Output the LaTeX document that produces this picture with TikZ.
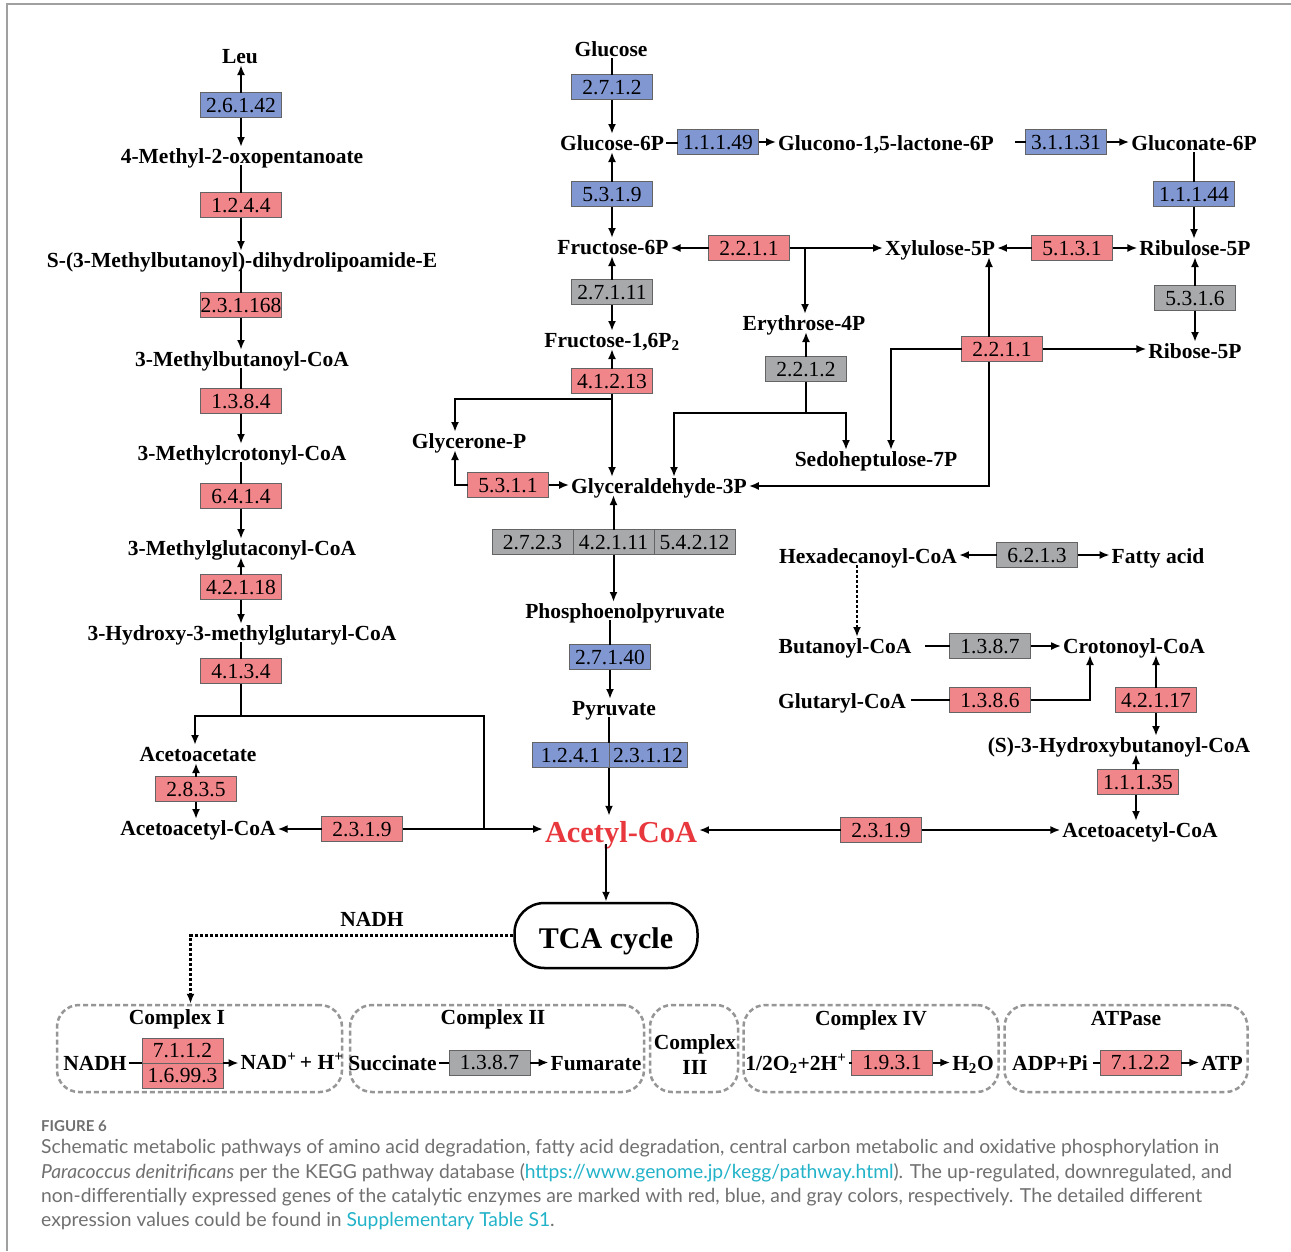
\documentclass[tikz,border=0pt]{standalone}
\usepackage{fontspec}
\setmainfont{Liberation Serif}
\newfontfamily\capfont{Lato}
\usetikzlibrary{arrows.meta,calc}
\definecolor{upred}{RGB}{240,134,138}
\definecolor{downblue}{RGB}{129,151,210}
\definecolor{nsgray}{RGB}{167,169,170}
\definecolor{boxline}{RGB}{100,100,100}
\definecolor{acred}{RGB}{232,56,61}
\definecolor{capgray}{RGB}{112,112,112}
\definecolor{linkcyan}{RGB}{34,179,201}
\definecolor{framegray}{RGB}{160,160,160}
\definecolor{cplxgray}{RGB}{150,150,150}
\newcommand\metfont{\fontsize{21.5}{24}\selectfont\bfseries}
\newcommand\enzfont{\fontsize{21.5}{24}\selectfont}
\newcommand\captxt{\capfont\fontsize{19.3}{23}\selectfont\color{capgray}}
\begin{document}
\begin{tikzpicture}[x=1pt,y=-1pt,
  met/.style={font=\metfont, inner sep=0pt, outer xsep=2pt, outer ysep=0pt, text height=16pt, text depth=2pt},
  enz/.style={draw=boxline, line width=0.8pt, minimum width=81pt, minimum height=25pt, inner sep=0pt, outer sep=0pt, font=\enzfont, text height=14.5pt, text depth=0pt},
  redbox/.style={enz, fill=upred},
  bluebox/.style={enz, fill=downblue},
  graybox/.style={enz, fill=nsgray},
  conn/.style={line width=2pt},
  flow/.style={conn, -{Latex[length=10pt,width=8pt]}},
  dotflow/.style={line width=2.2pt, dash pattern=on 3pt off 2pt, -{Latex[length=10pt,width=8pt]}},
  cplx/.style={draw=cplxgray, line width=2.5pt, dash pattern=on 5pt off 3pt, rounded corners=22pt, inner sep=0pt},
  tcabox/.style={draw, line width=2.5pt, rounded corners=30pt, minimum width=183pt, minimum height=65pt, inner sep=0pt, text height=25pt, text depth=0pt, font=\fontsize{30}{34}\selectfont\bfseries},
  capline/.style={anchor=base west, inner sep=0pt, font=\captxt}
]
\useasboundingbox (0,0) rectangle (1291,1251);
\fill[white] (0,0) rectangle (1291,1251);
\draw[framegray, line width=1.5pt] (7,1251) -- (7,4) -- (1291,4);

% ---------------- left column: leucine degradation
\node[met] (leu) at (240,56) {Leu};
\node[bluebox] (e1) at (241,105) {2.6.1.42};
\node[met] (mop) at (242,156) {4-Methyl-2-oxopentanoate};
\node[redbox] (e2) at (241,205) {1.2.4.4};
\node[met] (smb) at (242,260) {S-(3-Methylbutanoyl)-dihydrolipoamide-E};
\node[redbox] (e3) at (241,305) {2.3.1.168};
\node[met] (mbc) at (242,359) {3-Methylbutanoyl-CoA};
\node[redbox] (e4) at (241,401) {1.3.8.4};
\node[met] (mcc) at (242,453) {3-Methylcrotonyl-CoA};
\node[redbox] (e5) at (241,496) {6.4.1.4};
\node[met] (mgc) at (242,548) {3-Methylglutaconyl-CoA};
\node[redbox] (e6) at (241,587) {4.2.1.18};
\node[met] (hmg) at (242,633) {3-Hydroxy-3-methylglutaryl-CoA};
\node[redbox] (e7) at (241,671) {4.1.3.4};
\node[met] (aca) at (198,754) {Acetoacetate};
\node[redbox] (e8) at (196,789) {2.8.3.5};
\node[met] (acc1) at (198,828) {Acetoacetyl-CoA};
\node[redbox] (e9) at (362,829) {2.3.1.9};
\node[font=\fontsize{30.4}{34}\selectfont\bfseries, text=acred, inner sep=0pt, outer xsep=2pt, text height=26pt, text depth=2pt] (acoa) at (621,830) {Acetyl-CoA};
\coordinate (j1) at (241,715.5);
\coordinate (j3) at (484,829);

\draw[flow] (e1.north) -- (e1.north |- leu.south);
\draw[flow] (e1.south) -- (e1.south |- mop.north);
\draw[conn] (e2.north |- mop.south) -- (e2.north);
\draw[flow] (e2.south) -- (e2.south |- smb.north);
\draw[conn] (e3.north |- smb.south) -- (e3.north);
\draw[flow] (e3.south) -- (e3.south |- mbc.north);
\draw[conn] (e4.north |- mbc.south) -- (e4.north);
\draw[flow] (e4.south) -- (e4.south |- mcc.north);
\draw[conn] (e5.north |- mcc.south) -- (e5.north);
\draw[flow] (e5.south) -- (e5.south |- mgc.north);
\draw[flow] (e6.north) -- (e6.north |- mgc.south);
\draw[flow] (e6.south) -- (e6.south |- hmg.north);
\draw[conn] (e7.north |- hmg.south) -- (e7.north);
\draw[conn] (e7.south) -- (j1);
\draw[flow] (j1) -| ([xshift=-3pt]aca.north);
\draw[conn] (j1) -| (j3);
\draw[flow] (e8.north) -- (e8.north |- aca.south);
\draw[flow] (e8.south) -- (e8.south |- acc1.north);
\draw[flow] (e9.west) -- (e9.west -| acc1.east);
\draw[flow] (e9.east) -- (e9.east -| acoa.west);

% ---------------- central column: glycolysis / PPP
\node[met] (glc) at (611,49) {Glucose};
\node[bluebox] (e2712) at (612,87) {2.7.1.2};
\node[met] (g6p) at (612,143) {Glucose-6P};
\node[bluebox] (e11149) at (718,142) {1.1.1.49};
\node[met] (gl15) at (886,143) {Glucono-1,5-lactone-6P};
\node[bluebox] (e31131) at (1066,142) {3.1.1.31};
\node[met] (gc6p) at (1194,143) {Gluconate-6P};
\node[bluebox] (e11144) at (1194,194) {1.1.1.44};
\node[met] (ru5p) at (1195,248) {Ribulose-5P};
\node[graybox] (e5316) at (1195,298) {5.3.1.6};
\node[met] (r5p) at (1195,351) {Ribose-5P};
\node[redbox] (e5131) at (1072,248) {5.1.3.1};
\node[met] (xu5p) at (940,248) {Xylulose-5P};
\node[met] (f6p) at (613,247) {Fructose-6P};
\node[redbox] (e2211a) at (749,248) {2.2.1.1};
\node[met] (e4p) at (804,323) {Erythrose-4P};
\node[bluebox] (e5319) at (612,194) {5.3.1.9};
\node[graybox] (e27111) at (612,292) {2.7.1.11};
\node[met] (f16) at (612,340) {Fructose-1,6P\textsubscript{2}};
\node[redbox] (e41213) at (612,381) {4.1.2.13};
\node[met] (gnp) at (469,441) {Glycerone-P};
\node[redbox] (e5311) at (508,485) {5.3.1.1};
\node[met] (gap) at (659,486) {Glyceraldehyde-3P};
\node[graybox] (e2212) at (806,369) {2.2.1.2};
\node[met] (s7p) at (876,459) {Sedoheptulose-7P};
\node[redbox] (e2211b) at (1002,349) {2.2.1.1};
\node[graybox] (g1) at (532.5,542) {2.7.2.3};
\node[graybox] (g2) at (613.5,542) {4.2.1.11};
\node[graybox] (g3) at (694.5,542) {5.4.2.12};
\node[met] (pep) at (625,611) {Phosphoenolpyruvate};
\node[bluebox] (e27140) at (610,657) {2.7.1.40};
\node[met] (pyr) at (614,708) {Pyruvate};
\node[bluebox, minimum width=77pt] (e1241) at (570.5,755) {1.2.4.1};
\node[bluebox, minimum width=78pt] (e23112) at (648,755) {2.3.1.12};
\coordinate (b1) at (612,399);
\coordinate (j2) at (806,412.5);

\draw[conn] (e2712.north |- glc.south) -- (e2712.north);
\draw[flow] (e2712.south) -- (e2712.south |- g6p.north);
\draw[conn] (g6p.east) -- (g6p.east -| e11149.west);
\draw[flow] (e11149.east) -- (e11149.east -| gl15.west);
\draw[conn] ([xshift=19pt]gl15.east |- e31131.west) -- (e31131.west);
\draw[flow] (e31131.east) -- (e31131.east -| gc6p.west);
\draw[conn] (gc6p.south) -- (e11144.north);
\draw[flow] (e11144.south) -- (e11144.south |- ru5p.north);
\draw[flow] (e5316.north) -- (e5316.north |- ru5p.south);
\draw[flow] (e5316.south) -- (e5316.south |- r5p.north);
\draw[flow] (e5131.west) -- (e5131.west -| xu5p.east);
\draw[flow] (e5131.east) -- (e5131.east -| ru5p.west);
\draw[flow] (e5319.north) -- (e5319.north |- g6p.south);
\draw[flow] (e5319.south) -- (e5319.south |- f6p.north);
\draw[flow] (e27111.north) -- (e27111.north |- f6p.south);
\draw[flow] (e27111.south) -- (e27111.south |- f16.north);
\draw[flow] (e2211a.west) -- (e2211a.west -| f6p.east);
\draw[flow] (e2211a.east) -- (e2211a.east -| xu5p.west);
\draw[flow] ([xshift=1pt]e4p.north |- e2211a.east) -- ([xshift=1pt]e4p.north);
\draw[flow] (e41213.north) -- (e41213.north |- f16.south);
\draw[flow] (e41213.south) -- (e41213.south |- gap.north);
\draw[flow] (b1) -| ([xshift=-14pt]gnp.north);
\draw[flow] (e5311.west) -| ([xshift=-14pt]gnp.south);
\draw[flow] (e5311.east) -- (e5311.east -| gap.west);
\draw[flow] (e2212.north) -- (e2212.north |- e4p.south);
\draw[conn] (e2212.south) -- (j2);
\draw[flow] (j2) -| ([xshift=15pt]gap.north);
\draw[flow] (j2) -| ([xshift=-30pt]s7p.north);
\draw[flow] (e2211b.west) -| ([xshift=15pt]s7p.north);
\draw[flow] (e2211b.east) -- (e2211b.east -| r5p.west);
\draw[flow] ([xshift=-13pt]e2211b.north) -- ([xshift=-13pt]e2211b.north |- xu5p.south);
\draw[flow] ([xshift=-13pt]e2211b.south) |- (gap.east);
\draw[flow] (g2.north) -- (g2.north |- gap.south);
\draw[flow] (g2.south) -- (g2.south |- pep.north);
\draw[conn] (e27140.north |- pep.south) -- (e27140.north);
\draw[flow] (e27140.south) -- (e27140.south |- pyr.north);
\draw[conn] (e1241.north east |- pyr.south) -- (e1241.north east);
\draw[flow] (e1241.south east) -- (e1241.south east |- acoa.north);

% ---------------- right: fatty acid degradation
\node[met] (hex) at (868,556) {Hexadecanoyl-CoA};
\node[graybox] (e6213) at (1037,555) {6.2.1.3};
\node[met] (fa) at (1158,556) {Fatty acid};
\node[met] (but) at (845,646) {Butanoyl-CoA};
\node[graybox] (e1387) at (990,646) {1.3.8.7};
\node[met] (cro) at (1134,646) {Crotonoyl-CoA};
\node[met] (glu) at (842,701) {Glutaryl-CoA};
\node[redbox] (e1386) at (990,700) {1.3.8.6};
\node[redbox] (e42117) at (1156,700) {4.2.1.17};
\node[met] (hb) at (1119,745) {(S)-3-Hydroxybutanoyl-CoA};
\node[redbox] (e11135) at (1138,782) {1.1.1.35};
\node[met] (acc2) at (1140,830) {Acetoacetyl-CoA};
\node[redbox] (e2319b) at (881,830) {2.3.1.9};

\draw[flow] (e6213.west) -- (e6213.west -| hex.east);
\draw[flow] (e6213.east) -- (e6213.east -| fa.west);
\draw[dotflow] ([xshift=-11pt]hex.south) -- ([xshift=-11pt]hex.south |- but.north);
\draw[conn, shorten <=12pt] (but.east |- e1387.west) -- (e1387.west);
\draw[flow] (e1387.east) -- (e1387.east -| cro.west);
\draw[conn, shorten <=3pt] (glu.east |- e1386.west) -- (e1386.west);
\draw[flow] (e1386.east) -| ([xshift=-44pt]cro.south);
\draw[flow] (e42117.north) -- (e42117.north |- cro.south);
\draw[flow] (e42117.south) -- (e42117.south |- hb.north);
\draw[flow] ([xshift=-2pt]e11135.north) -- ([xshift=-2pt]e11135.north |- hb.south);
\draw[flow] ([xshift=-2pt]e11135.south) -- ([xshift=-2pt]e11135.south |- acc2.north);
\draw[flow] (e2319b.east) -- (e2319b.east -| acc2.west);
\draw[flow] (e2319b.west) -- (e2319b.west -| acoa.east);

% ---------------- TCA cycle and oxidative phosphorylation
\node[tcabox] (tca) at (606,935.5) {TCA cycle};
\draw[flow] (tca.north |- acoa.south) -- (tca.north);
\node[met] (nadhlab) at (372,919) {NADH};

\node[cplx, minimum width=285pt, minimum height=87pt] (c1) at (199.5,1048.5) {};
\node[cplx, minimum width=294pt, minimum height=87pt] (c2) at (497,1048.5) {};
\node[cplx, minimum width=88pt, minimum height=87pt] (c3) at (694,1048.5) {};
\node[cplx, minimum width=255pt, minimum height=87pt] (c4) at (871,1048.5) {};
\node[cplx, minimum width=243pt, minimum height=87pt] (c5) at (1126,1048.5) {};
\draw[dotflow] (tca.west) -| ([xshift=-9pt]c1.north);

\node[met] (t1) at (177,1017) {Complex I};
\node[met] (t2) at (493,1017) {Complex II};
\node[met] (t3a) at (695,1042) {Complex};
\node[met] (t3b) at (695,1067) {III};
\node[met] (t4) at (871,1018) {Complex IV};
\node[met] (t5) at (1126,1018) {ATPase};

\node[met] (nadh) at (95,1063) {NADH};
\node[redbox] (e7112) at (182.5,1050.5) {7.1.1.2};
\node[redbox] (e16993) at (182.5,1075.5) {1.6.99.3};
\node[met] (nadp) at (292,1062) {NAD\textsuperscript{+}\,+ H\textsuperscript{+}};
\draw[conn] (nadh.east) -- (nadh.east -| e7112.south west);
\draw[flow] (e7112.south east) -- (e7112.south east -| nadp.west);

\node[met] (succ) at (392.5,1063) {Succinate};
\node[graybox] (e1387b) at (489.5,1062.5) {1.3.8.7};
\node[met] (fum) at (596,1063) {Fumarate};
\draw[conn] (succ.east |- e1387b.west) -- (e1387b.west);
\draw[flow] (e1387b.east) -- (e1387b.east -| fum.west);

\node[met] (oxy) at (796,1063) {1/2O\textsubscript{2}+2H\textsuperscript{+}};
\node[redbox] (e1931) at (892,1062.5) {1.9.3.1};
\node[met] (h2o) at (973,1063) {H\textsubscript{2}O};
\draw[conn] (oxy.east |- e1931.west) -- (e1931.west);
\draw[flow] (e1931.east) -- (e1931.east -| h2o.west);

\node[met] (adp) at (1050,1063) {ADP+Pi};
\node[redbox] (e7122) at (1140.5,1062.5) {7.1.2.2};
\node[met] (atp) at (1222,1063) {ATP};
\draw[conn, shorten <=3pt] (adp.east |- e7122.west) -- (e7122.west);
\draw[flow] (e7122.east) -- (e7122.east -| atp.west);

% ---------------- caption
\node[anchor=base west, inner sep=0pt, font=\capfont\fontsize{15}{18}\selectfont\bfseries, text=capgray] (figlab) at (41,1131) {FIGURE 6};
\node[capline] (cap1) at (41,1153.5) {Schematic metabolic pathways of amino acid degradation, fatty acid degradation, central carbon metabolic and oxidative phosphorylation in};
\node[capline] (cap2) at (41,1178) {\itshape Paracoccus denitrificans\upshape{} per the KEGG pathway database (\textcolor{linkcyan}{https://www.genome.jp/kegg/pathway.html}). The up-regulated, downregulated, and};
\node[capline] (cap3) at (41,1202.5) {non-differentially expressed genes of the catalytic enzymes are marked with red, blue, and gray colors, respectively. The detailed different};
\node[capline] (cap4) at (41,1226.5) {expression values could be found in \textcolor{linkcyan}{Supplementary Table S1}.};
\end{tikzpicture}
\end{document}
